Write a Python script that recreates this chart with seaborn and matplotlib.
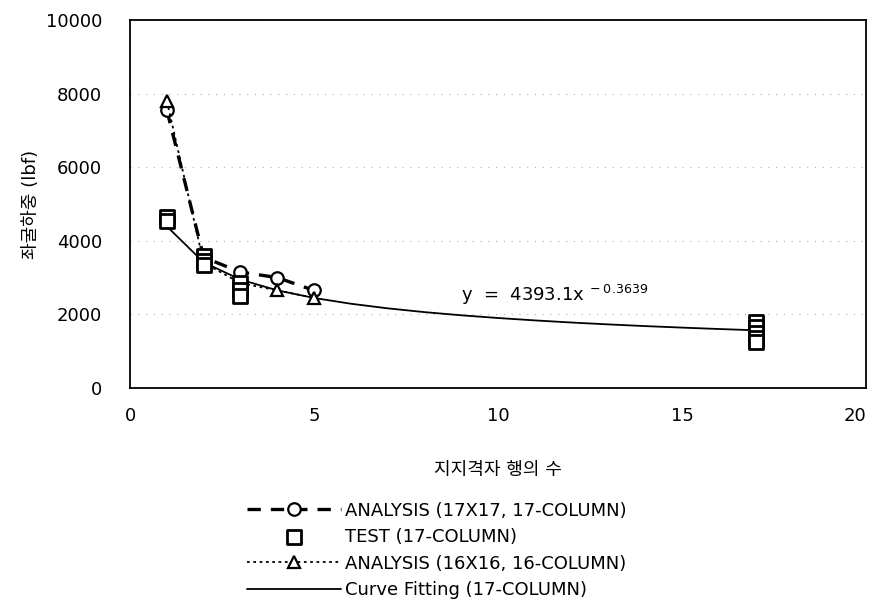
import pandas as pd
import matplotlib
matplotlib.use("Agg")
import matplotlib.pyplot as plt
import seaborn as sns

# ==========================================================
# DATA
# ==========================================================

x_ana17 = [1, 2, 3, 4, 5]
load_ana17 = [7550, 3550, 3150, 3000, 2650]

x_ana16 = [1, 2, 3, 4, 5]
load_ana16 = [7800, 3400, 2850, 2650, 2450]

x_test = [1, 1, 2, 2, 2, 3, 3, 3, 17, 17, 17, 17, 17]
load_test = [4650, 4550, 3600, 3450, 3350, 2850, 2650, 2500,
             1800, 1650, 1500, 1350, 1250]

x_fit = [1, 2, 3, 4, 5, 6, 7, 8, 9, 10, 11, 12, 13, 14, 15, 16, 17]
load_fit = [4393, 3414, 2945, 2653, 2446, 2289, 2164, 2061, 1975,
            1901, 1836, 1778, 1727, 1681, 1640, 1602, 1567]

x_ticks = [0, 5, 10, 15, 20]
y_ticks = [0, 2000, 4000, 6000, 8000, 10000]

labels = [
    "ANALYSIS (17X17, 17-COLUMN)",
    "TEST (17-COLUMN)",
    "ANALYSIS (16X16, 16-COLUMN)",
    "Curve Fitting (17-COLUMN)",
]

FS = 13

# ==========================================================
# STYLE
# ==========================================================

sns.set_style("white")
plt.rcParams["font.family"] = ["DejaVu Sans", "Noto Sans CJK KR"]
plt.rcParams["mathtext.default"] = "regular"
plt.rcParams["axes.unicode_minus"] = False
for key in ["text.color", "axes.labelcolor", "xtick.color", "ytick.color"]:
    plt.rcParams[key] = "black"

df_a17 = pd.DataFrame({"x": x_ana17, "y": load_ana17})
df_a16 = pd.DataFrame({"x": x_ana16, "y": load_ana16})
df_test = pd.DataFrame({"x": x_test, "y": load_test})
df_fit = pd.DataFrame({"x": x_fit, "y": load_fit})

# ==========================================================
# PLOT
# ==========================================================

fig = plt.figure(figsize=(8.73, 6.09), dpi=100)
ax = fig.add_axes([0.149, 0.363, 0.843, 0.604])

sns.lineplot(data=df_fit, x="x", y="y", ax=ax, color="black",
             linewidth=1.3, label=labels[3], zorder=3)

sns.lineplot(data=df_a17, x="x", y="y", ax=ax, color="black",
             linewidth=2.4, marker="o", markersize=9,
             markerfacecolor="white", markeredgecolor="black",
             markeredgewidth=1.6, label=labels[0], zorder=4)
ax.lines[-1].set_dashes([4, 3])

sns.lineplot(data=df_a16, x="x", y="y", ax=ax, color="black",
             linewidth=1.3, marker="^", markersize=9,
             markerfacecolor="white", markeredgecolor="black",
             markeredgewidth=1.6, label=labels[2], zorder=4)
ax.lines[-1].set_dashes([1.5, 2])

sns.scatterplot(data=df_test, x="x", y="y", ax=ax, marker="s", s=90,
                facecolor="white", edgecolor="black", linewidth=2.0,
                label=labels[1], zorder=5)

ax.set_xlim(0, 20)
ax.set_ylim(0, 10000)
ax.set_xticks(x_ticks)
ax.set_yticks(y_ticks)
ax.tick_params(axis="both", direction="in", length=4, labelsize=FS,
               pad=14, color="black")
ax.tick_params(axis="y", pad=20)
ax.get_xticklabels()[-1].set_horizontalalignment("right")
ax.yaxis.grid(True, color="#b0b0b0", linestyle=(0, (1, 6)), linewidth=0.8)
for s in ax.spines.values():
    s.set_color("black")
    s.set_linewidth(1.3)

ax.set_xlabel("지지격자 행의 수", fontsize=FS, labelpad=26)
ax.set_ylabel("좌굴하중 (lbf)", fontsize=FS, labelpad=4)

ax.text(9.0, 2350, r"y  =  4393.1x$^{\ -0.3639}$", fontsize=FS)

# legend below the axes, in the reference order
handles, labs = ax.get_legend_handles_labels()
order = [labs.index(l) for l in labels]
ax.legend_.remove()
fig.legend([handles[i] for i in order], labels,
           loc="upper left", bbox_to_anchor=(0.275, 0.188),
           bbox_transform=fig.transFigure, frameon=False,
           fontsize=FS, handlelength=5.2, handletextpad=0.2,
           labelspacing=0.47, borderaxespad=0)

fig.savefig("out.png", dpi=100)
plt.close(fig)
